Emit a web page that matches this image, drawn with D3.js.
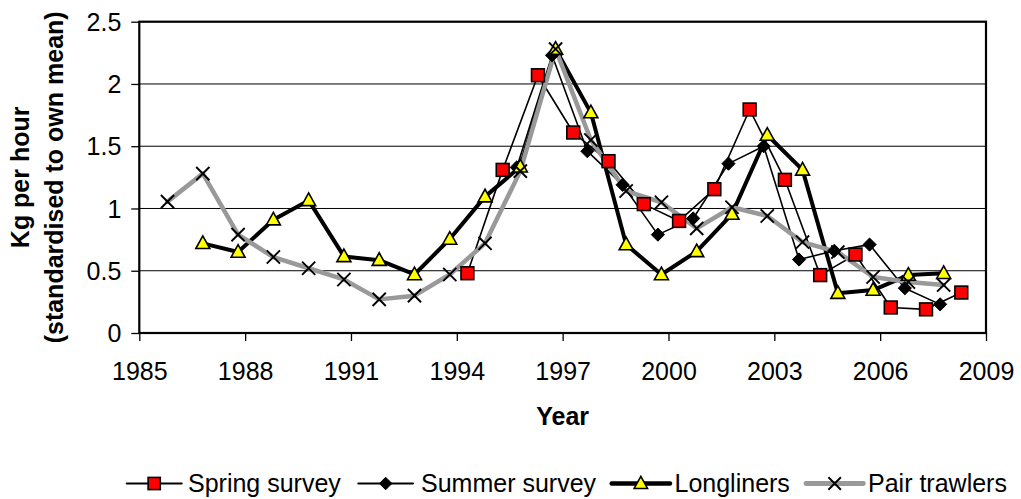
<!DOCTYPE html>
<html>
<head>
<meta charset="utf-8">
<script src="https://cdn.jsdelivr.net/npm/d3@7"></script>
<style>
  html, body { margin: 0; padding: 0; background: #fff; }
  svg { display: block; font-family: "Liberation Sans", Arial, sans-serif; }
</style>
</head>
<body>
<svg id="chart" width="1021" height="499"></svg>
<script>
// ---- Data ----
const springYears   = [1994.3, 1995.3, 1996.3, 1997.3, 1998.3, 1999.3, 2000.3, 2001.3, 2002.3, 2003.3, 2004.3, 2005.3, 2006.3, 2007.3, 2008.3];
const springValues  = [0.48, 1.31, 2.07, 1.61, 1.38, 1.035, 0.90, 1.155, 1.795, 1.23, 0.465, 0.63, 0.205, 0.19, 0.325];

const summerYears   = [1995.7, 1996.7, 1997.7, 1998.7, 1999.7, 2000.7, 2001.7, 2002.7, 2003.7, 2004.7, 2005.7, 2006.7, 2007.7];
const summerValues  = [1.33, 2.23, 1.46, 1.19, 0.79, 0.92, 1.36, 1.50, 0.59, 0.66, 0.71, 0.36, 0.23];

const longYears     = [1986.8, 1987.8, 1988.8, 1989.8, 1990.8, 1991.8, 1992.8, 1993.8, 1994.8, 1995.8, 1996.8, 1997.8, 1998.8, 1999.8, 2000.8, 2001.8, 2002.8, 2003.8, 2004.8, 2005.8, 2006.8, 2007.8];
const longValues    = [0.72, 0.65, 0.91, 1.065, 0.615, 0.585, 0.47, 0.755, 1.095, 1.335, 2.28, 1.77, 0.71, 0.47, 0.655, 0.955, 1.59, 1.31, 0.32, 0.345, 0.465, 0.48];

const pairYears     = [1985.8, 1986.8, 1987.8, 1988.8, 1989.8, 1990.8, 1991.8, 1992.8, 1993.8, 1994.8, 1995.8, 1996.8, 1997.8, 1998.8, 1999.8, 2000.8, 2001.8, 2002.8, 2003.8, 2004.8, 2005.8, 2006.8, 2007.8];
const pairValues    = [1.055, 1.28, 0.79, 0.61, 0.52, 0.43, 0.27, 0.30, 0.47, 0.72, 1.30, 2.28, 1.55, 1.14, 1.05, 0.84, 1.01, 0.94, 0.73, 0.65, 0.45, 0.41, 0.385];

const seriesNames   = ["Spring survey", "Summer survey", "Longliners", "Pair trawlers"];
const xTickValues   = [1985, 1988, 1991, 1994, 1997, 2000, 2003, 2006, 2009];
const yTickValues   = [0, 0.5, 1, 1.5, 2, 2.5];
const xTitle = "Year";
const yTitleLines = ["Kg per hour", "(standardised to own mean)"];

// ---- Layout ----
const svg = d3.select("#chart");
const plot = { left: 139.3, right: 986, top: 21.7, bottom: 333 };
const x = d3.scaleLinear().domain([1985, 2009]).range([plot.left, plot.right]);
const y = d3.scaleLinear().domain([0, 2.5]).range([plot.bottom, plot.top]);
const FONT = 25;

const series = [
  { name: seriesNames[0], years: springYears, values: springValues, stroke: "#000", width: 1.6, marker: "square" },
  { name: seriesNames[1], years: summerYears, values: summerValues, stroke: "#000", width: 1.6, marker: "diamond" },
  { name: seriesNames[2], years: longYears,   values: longValues,   stroke: "#000", width: 4,   marker: "triangle" },
  { name: seriesNames[3], years: pairYears,   values: pairValues,   stroke: "#999", width: 4.5, marker: "cross" }
];

// gridlines
svg.append("g").selectAll("line").data(yTickValues.slice(1)).join("line")
  .attr("x1", plot.left).attr("x2", plot.right)
  .attr("y1", d => y(d)).attr("y2", d => y(d))
  .attr("stroke", "#000").attr("stroke-width", 1);

// axes
const yAxis = svg.append("g").attr("transform", `translate(${plot.left},0)`)
  .call(d3.axisLeft(y).tickValues(yTickValues).tickFormat(d3.format("")).tickSize(8).tickPadding(10));
const xAxis = svg.append("g").attr("transform", `translate(0,${plot.bottom})`)
  .call(d3.axisBottom(x).tickValues(xTickValues).tickFormat(d3.format("d")).tickSize(8).tickPadding(13));
[yAxis, xAxis].forEach(g => {
  g.select(".domain").remove();
  g.selectAll(".tick line").attr("stroke", "#000").attr("stroke-width", 1.3);
  g.selectAll(".tick text").attr("font-size", FONT).attr("fill", "#000")
    .attr("font-family", "'Liberation Sans', Arial, sans-serif");
});
yAxis.selectAll(".tick text").attr("x", -18).attr("dy", "0.35em");
xAxis.selectAll(".tick text").attr("dy", "0").attr("y", 46.5);

// plot border
svg.append("rect")
  .attr("x", plot.left).attr("y", plot.top)
  .attr("width", plot.right - plot.left).attr("height", plot.bottom - plot.top)
  .attr("fill", "none").attr("stroke", "#000").attr("stroke-width", 2.2);

// lines
const line = d3.line().x(d => x(d[0])).y(d => y(d[1]));
const linesG = svg.append("g");
series.forEach(s => {
  const pts = s.years.map((yr, i) => [yr, s.values[i]]);
  linesG.append("path").datum(pts)
    .attr("d", line).attr("fill", "none")
    .attr("stroke", s.stroke).attr("stroke-width", s.width)
    .attr("stroke-linejoin", "round").attr("stroke-linecap", "round");
});

// markers
function drawMarker(g, type, cx, cy, scale = 1) {
  if (type === "square") {
    const h = 6.4 * scale;
    g.append("rect").attr("x", cx - h).attr("y", cy - h).attr("width", 2 * h).attr("height", 2 * h)
      .attr("fill", "#ff0000").attr("stroke", "#000").attr("stroke-width", 1.6);
  } else if (type === "diamond") {
    const r = 6.6 * scale;
    g.append("path").attr("d", `M${cx},${cy - r}L${cx + r},${cy}L${cx},${cy + r}L${cx - r},${cy}Z`)
      .attr("fill", "#000").attr("stroke", "#000").attr("stroke-width", 1);
  } else if (type === "triangle") {
    const w = 7 * scale, hTop = 7.4 * scale, hBot = 5.2 * scale;
    g.append("path").attr("d", `M${cx},${cy - hTop}L${cx + w},${cy + hBot}L${cx - w},${cy + hBot}Z`)
      .attr("fill", "#ffff00").attr("stroke", "#000").attr("stroke-width", 1.6).attr("stroke-linejoin", "miter");
  } else if (type === "cross") {
    const r = 6.6 * scale;
    g.append("path").attr("d", `M${cx - r},${cy - r}L${cx + r},${cy + r}M${cx + r},${cy - r}L${cx - r},${cy + r}`)
      .attr("stroke", "#000").attr("stroke-width", 1.9).attr("fill", "none");
  }
}
const markersG = svg.append("g");
series.forEach(s => {
  s.years.forEach((yr, i) => drawMarker(markersG, s.marker, x(yr), y(s.values[i])));
});

// axis titles
svg.append("text").attr("x", (plot.left + plot.right) / 2).attr("y", 425)
  .attr("text-anchor", "middle").attr("font-size", FONT).attr("font-weight", "bold").text(xTitle);
const yt = svg.append("text").attr("transform", `translate(0,${(plot.top + plot.bottom) / 2}) rotate(-90)`)
  .attr("text-anchor", "middle").attr("font-size", FONT).attr("font-weight", "bold");
yt.append("tspan").attr("x", 0).attr("y", 29).text(yTitleLines[0]);
yt.append("tspan").attr("x", 0).attr("y", 63).text(yTitleLines[1]);

// legend
const legendItems = [
  { l1: 126.7, l2: 181.7, tx: 188 },
  { l1: 358.3, l2: 413,   tx: 421 },
  { l1: 611.7, l2: 670,   tx: 674.5 },
  { l1: 806,   l2: 863.3, tx: 868 }
];
const legendY = 483.5;
const legendG = svg.append("g");
series.forEach((s, i) => {
  const it = legendItems[i];
  legendG.append("line").attr("x1", it.l1).attr("x2", it.l2).attr("y1", legendY).attr("y2", legendY)
    .attr("stroke", s.stroke).attr("stroke-width", s.width + 0.4).attr("stroke-linecap", "round");
  drawMarker(legendG, s.marker, (it.l1 + it.l2) / 2, legendY, 0.95);
  legendG.append("text").attr("x", it.tx).attr("y", legendY + 8.5)
    .attr("font-size", FONT).attr("fill", "#000").text(s.name);
});
</script>
</body>
</html>
